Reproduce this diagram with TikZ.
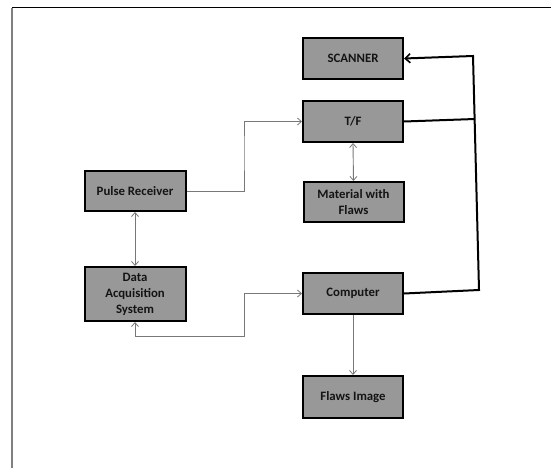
\documentclass[tikz,border=0pt]{standalone}
\usepackage{fontspec}
\setmainfont{Carlito}
\usetikzlibrary{arrows.meta}
\definecolor{boxfill}{RGB}{152,152,152}
\definecolor{boxtext}{RGB}{20,20,20}
\definecolor{linkgray}{RGB}{120,120,120}
\begin{document}
\begin{tikzpicture}[x=1pt,y=-1pt,
  block/.style={draw=black, line width=2pt, fill=boxfill, text=boxtext,
    font=\fontsize{12.8}{16}\selectfont\bfseries, align=center,
    minimum width=100pt, inner sep=0pt},
  link/.style={draw=linkgray, line width=0.9pt},
  tipend/.style={-{Straight Barb[length=4pt,width=7pt,line width=0.8pt]}},
  tipboth/.style={{Straight Barb[length=4pt,width=7pt,line width=0.8pt]}-{Straight Barb[length=4pt,width=7pt,line width=0.8pt]}},
  bus/.style={draw=black, line width=2pt}]
  \useasboundingbox (0,0) rectangle (551,468);
  % page frame
  \draw[black, line width=1pt] (12,8) -- (551,8);
  \draw[gray, line width=1.3pt] (12,8) -- (12,468);

  % blocks
  \node[block, minimum height=41pt] (scan) at (353,58.5) {SCANNER};
  \node[block, minimum height=41pt] (tf) at (353,121.5) {T/F};
  \node[block, minimum height=40pt] (mat) at (353.5,202) {Material with\\Flaws};
  \node[block, minimum height=41pt] (comp) at (353,293.5) {Computer};
  \node[block, minimum height=42pt] (img) at (353,397) {Flaws Image};
  \node[block, minimum height=40pt, minimum width=101pt] (pr) at (135,191) {Pulse Receiver};
  \node[block, minimum height=54pt, minimum width=101pt] (das) at (135,294) {Data\\Acquisition\\System};

  % routing points
  \coordinate (j1) at (244,150);
  \coordinate (j2) at (244,336);
  \coordinate (ct) at (473,56);
  \coordinate (cj) at (475,119);
  \coordinate (cb) at (479,290);

  % thin signal links
  \draw[link, tipend] (pr.east) -| (j1) |- (tf.west);
  \draw[link, tipboth] (pr.south) -- (das.north);
  \draw[link, tipboth] (tf.south) -- (mat.north);
  \draw[link, tipboth] (das.south) |- (j2) |- (comp.west);
  \draw[link, tipend] (comp.south) -- (img.north);

  % scanner control bus
  \draw[bus, -{Straight Barb[length=5pt,width=9pt,line width=1.6pt]}, line join=miter]
    (comp.east) -- (cb) -- (ct) -- (scan.east);
  \draw[bus] (tf.east) -- (cj);
\end{tikzpicture}
\end{document}
